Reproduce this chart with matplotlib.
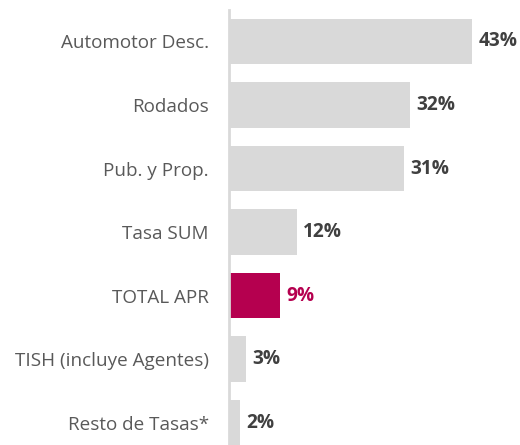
import matplotlib.pyplot as plt

# categorías y valores (%)
categorias = ["Automotor Desc.", "Rodados", "Pub. y Prop.", "Tasa SUM",
              "TOTAL APR", "TISH (incluye Agentes)", "Resto de Tasas*"]
valores = [43, 32, 31, 12, 9, 3, 2]
etiquetas = ["43%", "32%", "31%", "12%", "9%", "3%", "2%"]
destacado = "TOTAL APR"

gris = "#d9d9d9"
magenta = "#b5004f"

plt.rcParams["font.family"] = ["Open Sans", "DejaVu Sans"]

fig = plt.figure(figsize=(5.2, 4.45), dpi=100)
ax = fig.add_axes([229 / 520, 0, 1 - 229 / 520, 435 / 445])

colores = [magenta if c == destacado else gris for c in categorias]
pos = list(range(len(categorias)))
ax.barh(pos, valores, height=0.71, color=colores)

# etiquetas de valor a la derecha de cada barra
for p, v, t, c in zip(pos, valores, etiquetas, categorias):
    col = magenta if c == destacado else "#404040"
    ax.text(v + 1.1, p, t, va="center", ha="left", fontsize=13.8,
            fontweight="bold", color=col)

ax.set_xlim(0, 51.5)
ax.set_ylim(6.354, -0.496)
ax.set_yticks(pos)
ax.set_yticklabels(categorias, fontsize=13.6, color="#595959")
ax.tick_params(axis="y", length=0, pad=14.4)
ax.set_xticks([])
for s in ["top", "right", "bottom"]:
    ax.spines[s].set_visible(False)
ax.spines["left"].set_color(gris)
ax.spines["left"].set_linewidth(2)

fig.savefig("out.png", dpi=100)
